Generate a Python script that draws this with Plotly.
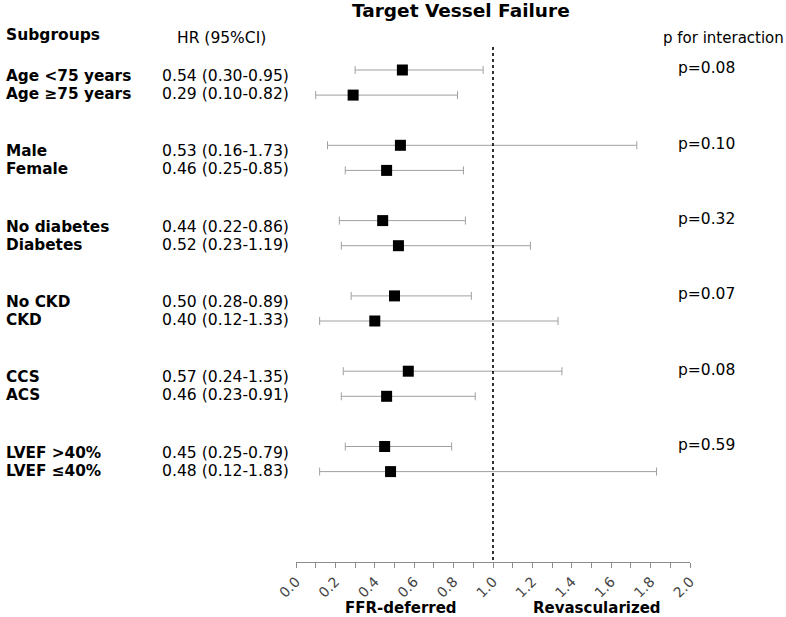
import plotly.graph_objects as go

# ---------------- data ----------------
subgroups = ["Age <75 years", "Age \u226575 years", "Male", "Female",
             "No diabetes", "Diabetes", "No CKD", "CKD", "CCS", "ACS",
             "LVEF >40%", "LVEF \u226440%"]
hr = [0.54, 0.29, 0.53, 0.46, 0.44, 0.52, 0.50, 0.40, 0.57, 0.46, 0.45, 0.48]
ci_low = [0.30, 0.10, 0.16, 0.25, 0.22, 0.23, 0.28, 0.12, 0.24, 0.23, 0.25, 0.12]
ci_high = [0.95, 0.82, 1.73, 0.85, 0.86, 1.19, 0.89, 1.33, 1.35, 0.91, 0.79, 1.83]
p_interaction = ["0.08", "0.10", "0.32", "0.07", "0.08", "0.59"]
tick_vals = [0.0, 0.2, 0.4, 0.6, 0.8, 1.0, 1.2, 1.4, 1.6, 1.8, 2.0]
tick_text = ["0.0", "0.2", "0.4", "0.6", "0.8", "1.0", "1.2", "1.4", "1.6", "1.8", "2.0"]

# ---------------- layout constants ----------------
W, H = 786, 617
FONT = "DejaVu Sans, Verdana, sans-serif"
ROW0_PX, ROW_PX = 70.0, 25.1          # pixel of first row, pixels per row unit
AXIS_PX = 562.0                       # pixel of x-axis line
y_top = (0 - ROW0_PX) / ROW_PX
y_bot = (AXIS_PX - ROW0_PX) / ROW_PX

rows = [3 * (i // 2) + (i % 2) for i in range(len(subgroups))]

fig = go.Figure()
fig.add_trace(go.Scatter(
    x=hr, y=rows, mode="markers",
    marker=dict(symbol="square", size=11, color="black"),
    error_x=dict(type="data", symmetric=False,
                 array=[h - v for h, v in zip(ci_high, hr)],
                 arrayminus=[v - l for v, l in zip(hr, ci_low)],
                 color="#a0a0a0", thickness=1, width=4),
    hoverinfo="skip", showlegend=False, cliponaxis=False,
))

ann = []
def paper_y(px):
    return 1 - px / H

# Title and headers
ann.append(dict(text="<b>Target Vessel Failure</b>", x=461 / W, y=paper_y(11), xref="paper", yref="paper",
                xanchor="center", yanchor="middle", showarrow=False, font=dict(size=18.5, family=FONT, color="black")))
ann.append(dict(text="<b>Subgroups</b>", x=4 / W, y=paper_y(35), xref="paper", yref="paper",
                xanchor="left", yanchor="middle", showarrow=False, font=dict(size=15.5, family=FONT, color="black")))
ann.append(dict(text="HR (95%CI)", x=221 / W, y=paper_y(38), xref="paper", yref="paper",
                xanchor="center", yanchor="middle", showarrow=False, font=dict(size=15.5, family=FONT, color="black")))
ann.append(dict(text="p for interaction", x=723 / W, y=paper_y(38), xref="paper", yref="paper",
                xanchor="center", yanchor="middle", showarrow=False, font=dict(size=15, family=FONT, color="black")))

# Row labels and HR text
for i, name in enumerate(subgroups):
    g, j = divmod(i, 2)
    ty = 3 * g + 0.6 + (0.36 if j else -0.36)
    ann.append(dict(text="<b>%s</b>" % name, x=4 / W, y=ty, xref="paper", yref="y",
                    xanchor="left", yanchor="middle", showarrow=False,
                    font=dict(size=15.3, family=FONT, color="black")))
    ann.append(dict(text="%.2f (%.2f-%.2f)" % (hr[i], ci_low[i], ci_high[i]), x=160 / W, y=ty,
                    xref="paper", yref="y", xanchor="left", yanchor="middle", showarrow=False,
                    font=dict(size=15.6, family=FONT, color="black")))

# p for interaction
for g, p in enumerate(p_interaction):
    ann.append(dict(text="p=%s" % p, x=706 / W, y=3 * g - 0.06, xref="paper", yref="y",
                    xanchor="center", yanchor="middle", showarrow=False,
                    font=dict(size=15.5, family=FONT, color="black")))

# Bottom labels
ann.append(dict(text="<b>FFR-deferred</b>", x=401 / W, y=paper_y(608), xref="paper", yref="paper",
                xanchor="center", yanchor="middle", showarrow=False, font=dict(size=15, family=FONT, color="black")))
ann.append(dict(text="<b>Revascularized</b>", x=597 / W, y=paper_y(608), xref="paper", yref="paper",
                xanchor="center", yanchor="middle", showarrow=False, font=dict(size=15, family=FONT, color="black")))

fig.update_layout(
    width=W, height=H, autosize=False,
    margin=dict(l=0, r=0, t=0, b=0, pad=0),
    paper_bgcolor="white", plot_bgcolor="white",
    annotations=ann,
    shapes=[dict(type="line", xref="x", yref="y", x0=1.0, x1=1.0,
                 y0=(47 - ROW0_PX) / ROW_PX, y1=y_bot,
                 line=dict(color="black", width=1.6, dash="dot"))],
    xaxis=dict(domain=[296 / W, 690 / W], range=[0, 2], showgrid=False, zeroline=False,
               showline=True, linecolor="#8c8c8c", linewidth=1, automargin=False,
               tickmode="array", tickvals=tick_vals, ticktext=tick_text,
               ticks="outside", ticklen=5, tickcolor="#8c8c8c", tickwidth=1,
               tickangle=-45, tickfont=dict(size=14, family=FONT, color="#444444"),
               minor=dict(dtick=0.1, tick0=0, ticks="outside", ticklen=5, tickcolor="#8c8c8c", tickwidth=1),
               fixedrange=True),
    yaxis=dict(domain=[1 - AXIS_PX / H, 1], range=[y_bot, y_top], visible=False,
               automargin=False, fixedrange=True),
)

fig.write_html("out.html", config={"responsive": False, "displayModeBar": False},
               post_script="document.body.style.margin='0';document.body.style.overflow='hidden';")
